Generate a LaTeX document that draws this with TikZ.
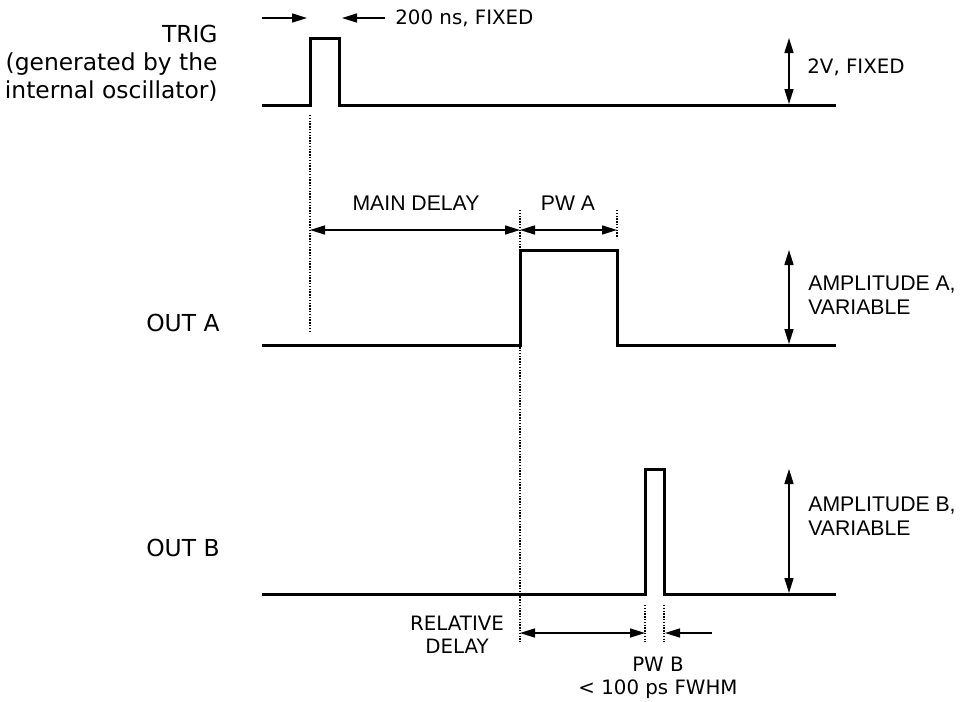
\documentclass[tikz,border=0pt]{standalone}
\usepackage{fontspec}
\setmainfont{Liberation Sans}
\newfontfamily\dejavu{DejaVu Sans}
\usetikzlibrary{arrows.meta, positioning}

\begin{document}
\begin{tikzpicture}[x=0.5pt, y=-0.5pt, >={Triangle[length=7.5pt, width=4.5pt]},
    signal/.style={line width=1.5pt},
    dimline/.style={line width=0.8pt},
    guide/.style={line width=1.1pt, dash pattern=on 0.7pt off 0.7pt},
    chlabel/.style={font=\dejavu\fontsize{11.7}{14}\selectfont, inner sep=0pt, anchor=east, align=right},
    dimlabel/.style={font=\fontsize{10.6}{12}\selectfont, inner sep=0pt, align=left},
    notelabel/.style={font=\dejavu\fontsize{9.9}{11.5}\selectfont, inner sep=0pt, align=center}]
    \useasboundingbox (0,0) rectangle (960,702);

    % TRIG channel
    \coordinate (t0) at (262,105);
    \coordinate (tr) at (310,38);
    \coordinate (tf) at (339,38);
    \coordinate (t1) at (836,105);
    \draw[signal] (t0) -| (tr) -- (tf) |- (t1);
    \node[chlabel] (trig) at (218,63) {TRIG\\(generated by the\\internal oscillator)};

    \coordinate (w0) at (262,18);
    \coordinate (w1) at (307,18);
    \coordinate (w2) at (385,18);
    \coordinate (w3) at (342,18);
    \draw[->, dimline] (w0) -- (w1);
    \draw[->, dimline] (w2) -- (w3);
    \node[notelabel, anchor=west] (wtrig) at (395,18) {200 ns, FIXED};

    \coordinate (a0) at (789,38);
    \coordinate (a1) at (789,104);
    \draw[<->, dimline] (a0) -- (a1);
    \node[notelabel, anchor=west] (atrig) at (807,67) {2V, FIXED};

    % OUT A channel
    \coordinate (o0) at (262,345);
    \coordinate (or) at (520,250);
    \coordinate (of) at (617,250);
    \coordinate (o1) at (836,345);
    \draw[signal] (o0) -| (or) -- (of) |- (o1);
    \node[chlabel] (outa) at (220,323) {OUT A};

    \coordinate (g0) at (310,115);
    \coordinate (g1) at (310,333);
    \coordinate (g2) at (520,210);
    \coordinate (g3) at (520,642);
    \coordinate (g4) at (617,210);
    \coordinate (g5) at (617,238);
    \draw[guide] (g0) -- (g1);
    \draw[guide] (g2) -- (g3);
    \draw[guide] (g4) -- (g5);

    \coordinate (m0) at (310,230);
    \coordinate (m1) at (520,230);
    \coordinate (m2) at (617,230);
    \draw[<->, dimline] (m0) -- (m1);
    \draw[<->, dimline] (m1) -- (m2);
    \node[dimlabel] (main) at (416,203) {MAIN DELAY};
    \node[dimlabel] (pwa) at (568,203) {PW A};

    \coordinate (b0) at (789,250);
    \coordinate (b1) at (789,344);
    \draw[<->, dimline] (b0) -- (b1);
    \node[dimlabel, anchor=west] (ampa) at (808,295) {AMPLITUDE A,\\VARIABLE};

    % OUT B channel
    \coordinate (p0) at (262,594);
    \coordinate (pr) at (645,469);
    \coordinate (pf) at (664,469);
    \coordinate (p1) at (836,594);
    \draw[signal] (p0) -| (pr) -- (pf) |- (p1);
    \node[chlabel] (outb) at (220,548) {OUT B};

    \coordinate (c0) at (789,469);
    \coordinate (c1) at (789,593);
    \draw[<->, dimline] (c0) -- (c1);
    \node[dimlabel, anchor=west] (ampb) at (808,516) {AMPLITUDE B,\\VARIABLE};

    \coordinate (h0) at (645,605);
    \coordinate (h1) at (645,642);
    \coordinate (h2) at (664,605);
    \coordinate (h3) at (664,642);
    \draw[guide] (h0) -- (h1);
    \draw[guide] (h2) -- (h3);

    \coordinate (r0) at (520,633);
    \coordinate (r1) at (645,633);
    \coordinate (r2) at (712,633);
    \coordinate (r3) at (665,633);
    \draw[<->, dimline] (r0) -- (r1);
    \draw[->, dimline] (r2) -- (r3);
    \node[notelabel] (rel) at (457,635) {RELATIVE\\DELAY};
    \node[notelabel] (pwb) at (658,678) {PW B\\{<} 100 ps FWHM};
\end{tikzpicture}
\end{document}
